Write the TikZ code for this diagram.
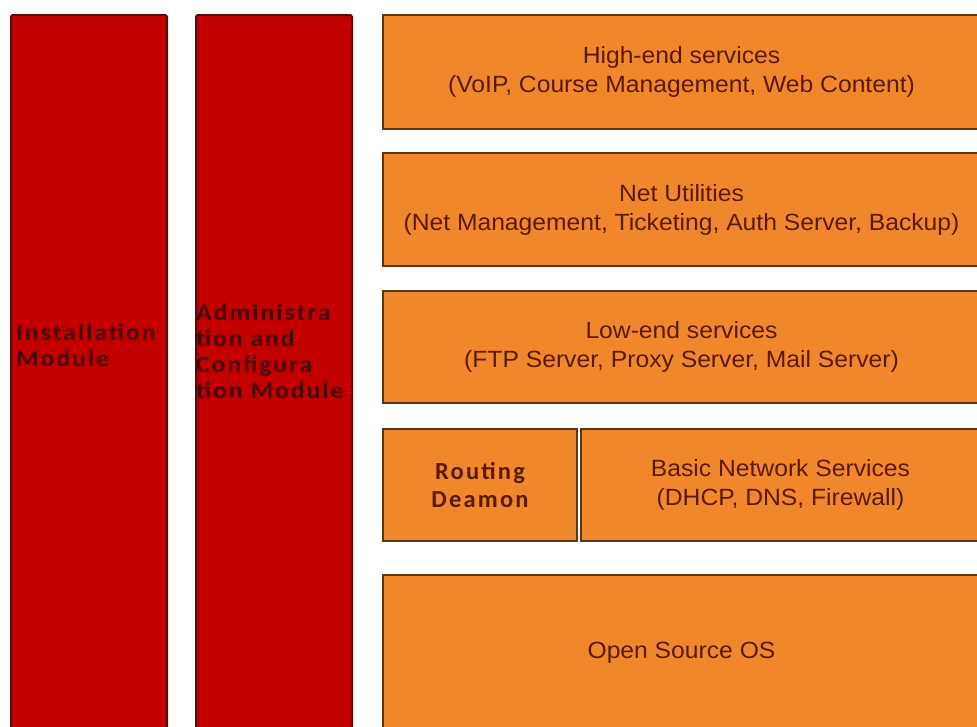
\documentclass[tikz,border=0pt]{standalone}
\usepackage{fontspec}
\setmainfont[FakeStretch=1.05]{Liberation Sans}
\newfontfamily\routefont[LetterSpace=9]{Carlito}
\newfontfamily\modfont[LetterSpace=8,FakeStretch=1.1]{Carlito}
\definecolor{redfill}{HTML}{C20000}
\definecolor{redborder}{HTML}{5A0A0A}
\definecolor{redtextc}{HTML}{4A0505}
\definecolor{orfill}{HTML}{F0882B}
\definecolor{orborder}{HTML}{5C3514}
\definecolor{ortextc}{HTML}{5A1800}
\begin{document}
\begin{tikzpicture}[x=1pt,y=-1pt,
  redbox/.style={draw=redborder, line width=2pt, fill=redfill, rounded corners=1.5pt, anchor=north west, inner sep=0pt},
  orbox/.style={draw=orborder, line width=2pt, fill=orfill, anchor=north west, align=center, text=ortextc, font=\fontsize{23.5}{29}\selectfont, inner sep=0pt},
  redlabel/.style={anchor=west, align=left, text=redtextc, font=\modfont\bfseries\fontsize{23.5}{26}\selectfont, inner sep=0pt},
  routelabel/.style={align=center, text=ortextc, font=\routefont\bfseries\fontsize{24.5}{28}\selectfont, inner sep=0pt}]
\useasboundingbox (0,0) rectangle (977,726);
\fill[white] (0,0) rectangle (977,726);
% red columns
\node[redbox, minimum width=156pt, minimum height=714pt] (inst) at (10,14) {};
\node[redbox, minimum width=156pt, minimum height=714pt] (admin) at (195,14) {};
\node[redlabel] (instlabel) at (16,345) {Installation\\Module};
\node[redlabel] (adminlabel) at (196,351) {Administra\\tion and\\Configura\\tion Module};
% orange layers
\node[orbox, minimum width=597pt, minimum height=114pt] (high) at (382,14) {High-end services\\(VoIP, Course Management, Web Content)};
\node[orbox, minimum width=597pt, minimum height=113pt] (net) at (382,152) {Net Utilities\\(Net Management, Ticketing, Auth Server, Backup)};
\node[orbox, minimum width=597pt, minimum height=112pt] (low) at (382,290) {Low-end services\\(FTP Server, Proxy Server, Mail Server)};
\node[orbox, minimum width=194pt, minimum height=112pt] (route) at (382,428) {};
\node[routelabel] (routelabel) at (route.center) {Routing\\Deamon};
\node[orbox, minimum width=399pt, minimum height=112pt] (basic) at (580,428) {Basic Network Services\\(DHCP, DNS, Firewall)};
\node[orbox, minimum width=597pt, minimum height=155pt] (os) at (382,574) {Open Source OS};
\end{tikzpicture}
\end{document}
